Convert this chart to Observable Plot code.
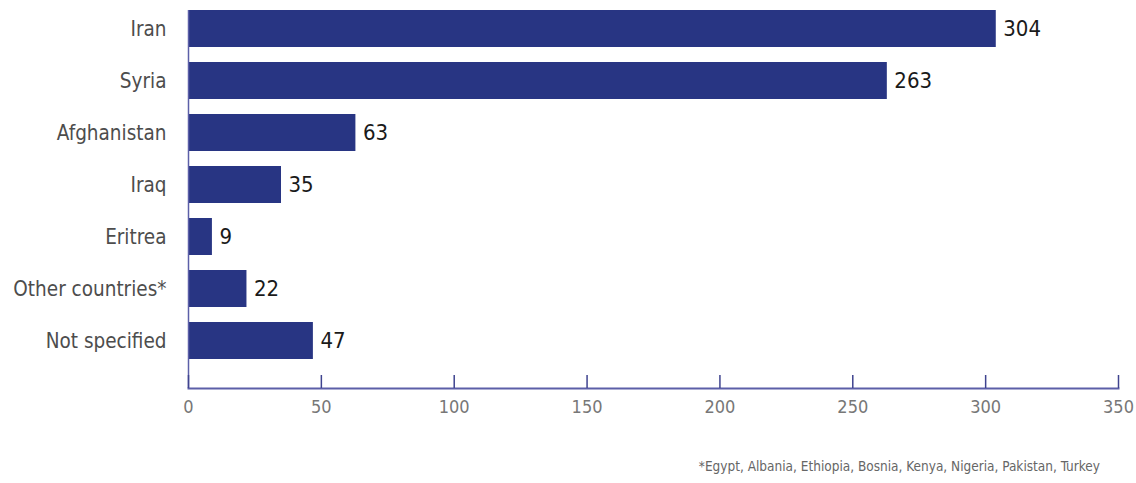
<!DOCTYPE html>
<html>
<head>
<meta charset="utf-8">
<script src="https://cdn.jsdelivr.net/npm/d3@7"></script>
<script src="https://cdn.jsdelivr.net/npm/@observablehq/plot@0.6"></script>
<style>
  body { margin: 0; background: #fff; font-family: "Liberation Sans Narrow", "DejaVu Sans Condensed", sans-serif; }
  #chart { width: 1136px; }
  #note { width: 1136px; box-sizing: border-box; padding-right: 36px; text-align: right; font-size: 13.5px; color: #666; margin-top: 18px; }
</style>
</head>
<body>
<div id="chart"></div>
<div id="note">*Egypt, Albania, Ethiopia, Bosnia, Kenya, Nigeria, Pakistan, Turkey</div>
<script>
const countries = ["Iran", "Syria", "Afghanistan", "Iraq", "Eritrea", "Other countries*", "Not specified"];
const counts = [304, 263, 63, 35, 9, 22, 47];
const xTicks = [0, 50, 100, 150, 200, 250, 300, 350];

const data = countries.map((c, i) => ({country: c, value: counts[i]}));

const barColor = "#283583";
const axisColor = "#5c5fa8";

const plot = Plot.plot({
  width: 1136,
  height: 440,
  marginLeft: 188,
  marginRight: 18,
  marginTop: 10,
  marginBottom: 52,
  style: {fontFamily: "'Liberation Sans Narrow', 'DejaVu Sans Condensed', sans-serif", background: "#fff"},
  x: {domain: [0, 350], ticks: xTicks},
  y: {domain: countries, paddingInner: 0.29, paddingOuter: 0.25, align: 0},
  marks: [
    Plot.barX(data, {y: "country", x: "value", fill: barColor}),
    Plot.text(data, {y: "country", x: "value", text: d => String(d.value), textAnchor: "start", dx: 7, fontSize: 22, fill: "#1a1a1a"}),
    Plot.ruleX([0], {stroke: axisColor, strokeWidth: 1.5}),
    Plot.frame({anchor: "bottom", stroke: axisColor, strokeWidth: 2}),
    Plot.axisX(xTicks, {tickSize: -13, text: null, label: null, stroke: "#3f438f", strokeWidth: 1.5}),
    Plot.axisX(xTicks, {tickSize: 0, tickPadding: 12, fontSize: 18, fill: "#777", label: null}),
    Plot.axisY({tickSize: 0, tickPadding: 22, fontSize: 20.5, fill: "#4d4d4d", label: null})
  ]
});
document.getElementById("chart").appendChild(plot);
</script>
</body>
</html>
